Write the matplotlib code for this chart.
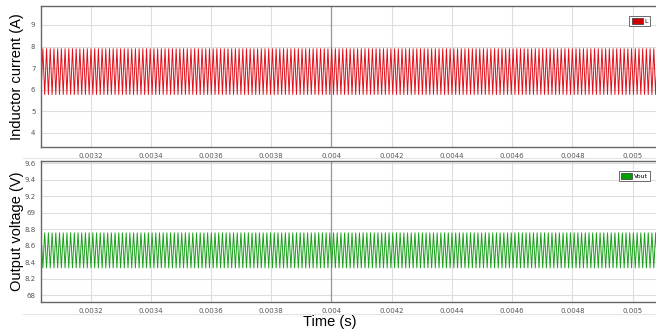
import numpy as np
import matplotlib
matplotlib.use("Agg")
import matplotlib.pyplot as plt
from matplotlib.patches import Patch

# ---- data ----
t_start = 0.003035      # s
t_end = 0.005078        # s
t_sw = 12.3e-6          # switching period (s)
iL_max = 7.9            # A
iL_min = 5.78           # A
vout_max = 8.755        # V
vout_min = 8.33         # V

x_ticks = [0.0032, 0.0034, 0.0036, 0.0038, 0.004, 0.0042, 0.0044, 0.0046, 0.0048, 0.005]
x_ticklabels = ["0.0032", "0.0034", "0.0036", "0.0038", "0.004", "0.0042", "0.0044", "0.0046", "0.0048", "0.005"]
i_ticks = [4, 5, 6, 7, 8, 9]
i_ticklabels = ["4", "5", "6", "7", "8", "9"]
v_ticks = [8.0, 8.2, 8.4, 8.6, 8.8, 9.0, 9.2, 9.4, 9.6]
v_ticklabels = ["68", "8.2", "8.4", "8.6", "8.8", "69", "9.2", "9.4", "9.6"]

# triangle vertices: alternate peak / trough every half period
n_half = int((t_end - t_start) / (t_sw / 2)) + 2
t_vert = t_start + np.arange(n_half) * (t_sw / 2)
iL = np.where(np.arange(n_half) % 2 == 0, iL_min, iL_max)
vout = np.where(np.arange(n_half) % 2 == 0, vout_max, vout_min)

fig = plt.figure(figsize=(6.56, 3.31), dpi=100)
ax1 = fig.add_axes([0.0625, 0.556, 0.9375, 0.426])
ax2 = fig.add_axes([0.0625, 0.0876, 0.9375, 0.426])

label_font = dict(family="Liberation Sans", size=10.5)

def style(ax):
    ax.set_xlim(t_start, t_end)
    ax.set_xticks(x_ticks)
    ax.set_xticklabels(x_ticklabels)
    ax.tick_params(length=0, labelsize=5, colors="#555555", pad=4)
    ax.grid(True, color="#dddddd", linewidth=0.8)
    ax.set_axisbelow(True)
    for s in ["top", "left", "bottom"]:
        ax.spines[s].set_color("#666666")
        ax.spines[s].set_linewidth(1.0)
    ax.spines["right"].set_visible(False)
    ax.axvline(0.004, color="#999999", linewidth=0.9, zorder=1)

ax1.plot(t_vert, iL, color="#e0101a", linewidth=0.7, label="L")
ax1.set_ylim(3.35, 9.88)
ax1.set_yticks(i_ticks)
ax1.set_yticklabels(i_ticklabels)
style(ax1)
ax1.set_ylabel("Inductor current (A)", fontdict=label_font)
ax1.yaxis.set_label_coords(-0.028, 0.5)

ax2.plot(t_vert, vout, color="#1aa01a", linewidth=0.7, label="Vout")
ax2.set_ylim(7.915, 9.628)
ax2.set_yticks(v_ticks)
ax2.set_yticklabels(v_ticklabels)
style(ax2)
ax2.set_ylabel("Output voltage (V)", fontdict=label_font)
ax2.yaxis.set_label_coords(-0.028, 0.5)

fig.text(0.503, 0.026, "Time (s)", ha="center", va="center", **label_font)

# faint separator lines under the tick labels
fig.add_artist(plt.Line2D([0.035, 1.0], [1 - 314 / 331, 1 - 314 / 331], transform=fig.transFigure,
                          color="#e4e4e4", linewidth=0.8))
fig.add_artist(plt.Line2D([0.035, 1.0], [1 - 158 / 331, 1 - 158 / 331], transform=fig.transFigure,
                          color="#e4e4e4", linewidth=0.8))

for ax, col, lab in [(ax1, "#d00000", "L"), (ax2, "#00a000", "Vout")]:
    leg = ax.legend(handles=[Patch(facecolor=col, edgecolor="#333333", linewidth=0.5, label=lab)],
                    loc="upper right", fontsize=4.5, handlelength=1.8, handleheight=0.9,
                    handletextpad=0.3, borderpad=0.35, fancybox=False, framealpha=1,
                    bbox_to_anchor=(0.996, 0.95))
    leg.get_frame().set_edgecolor("#555555")
    leg.get_frame().set_linewidth(0.6)

fig.savefig("out.png", dpi=100)
